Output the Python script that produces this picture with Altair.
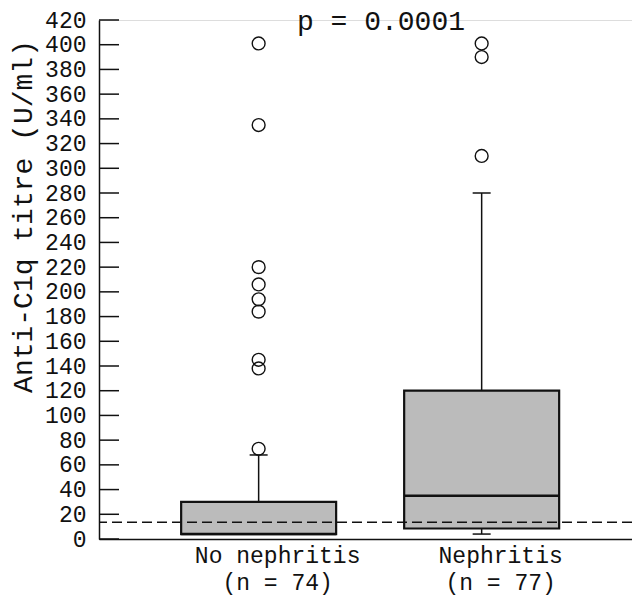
import altair as alt
import pandas as pd

groups = ["No nephritis", "Nephritis"]
n_values = [74, 77]
q1 = [4, 8.5]
medians = [4, 35]
q3 = [30, 120]
whisk_lo = [4, 4]
whisk_hi = [68, 280]
outliers_no = [73, 138, 145, 184, 194, 206, 220, 335, 401]
outliers_yes = [310, 390, 401]
cutoff = 13.5
y_ticks = list(range(0, 421, 20))
p_text = "p = 0.0001"

FONT = "Liberation Mono"
labels = [f"{g}|(n = {n})" for g, n in zip(groups, n_values)]

box_df = pd.DataFrame({
    "group": labels, "q1": q1, "median": medians, "q3": q3,
    "lo": whisk_lo, "hi": whisk_hi,
})
out_df = pd.DataFrame({
    "group": [labels[0]] * len(outliers_no) + [labels[1]] * len(outliers_yes),
    "value": outliers_no + outliers_yes,
})
tick_df = pd.DataFrame({"v": y_ticks})

x_enc = alt.X("group:N", sort=labels,
              scale=alt.Scale(paddingInner=0.305, paddingOuter=0.3475, align=0.53),
              axis=alt.Axis(title=None, labelAngle=0, ticks=False,
                            labelExpr="split(datum.label, '|')",
                            labelFont=FONT, labelFontSize=23, labelLineHeight=27,
                            labelColor="#111", labelPadding=5, labelOffset=19,
                            domainColor="#111", domainWidth=1.5))
y_scale = alt.Scale(domain=[0, 420], nice=False, zero=True)
y_axis = alt.Axis(values=y_ticks, grid=False, ticks=False, labelFont=FONT,
                  labelFontSize=23, labelColor="#111", labelPadding=13,
                  labelOverlap=False, labelSeparation=0,
                  domainColor="#111", domainWidth=1.5,
                  title="Anti-C1q titre (U/ml)", titleFont=FONT,
                  titleFontSize=28, titleFontWeight="normal", titleColor="#111",
                  titleAngle=-90, titleX=-76, titleY=196,
                  titleAlign="center", titleBaseline="middle")

base = alt.Chart(box_df)

whisk_up = base.mark_rule(color="#111", strokeWidth=1.5).encode(
    x=x_enc, y=alt.Y("q3:Q", scale=y_scale, axis=y_axis), y2="hi:Q")
whisk_down = base.mark_rule(color="#111", strokeWidth=1.5).encode(
    x=x_enc, y=alt.Y("lo:Q", axis=y_axis), y2="q1:Q")
cap_hi = base.mark_tick(color="#111", thickness=1.5, size=18, opacity=1,
                        orient="horizontal").encode(x=x_enc, y=alt.Y("hi:Q", axis=y_axis))
cap_lo = base.mark_tick(color="#111", thickness=1.5, size=18, opacity=1,
                        orient="horizontal").encode(x=x_enc, y=alt.Y("lo:Q", axis=y_axis))
box = base.mark_bar(fill="#bbbbbb", stroke="#111", strokeWidth=2.2, opacity=1).encode(
    x=x_enc, y=alt.Y("q1:Q", axis=y_axis), y2="q3:Q")
med = base.mark_tick(color="#111", thickness=2.4, size=155, opacity=1,
                     orient="horizontal").encode(x=x_enc, y=alt.Y("median:Q", axis=y_axis))
outs = alt.Chart(out_df).mark_point(shape="circle", filled=False, color="#111",
                                    strokeWidth=1.4, size=165, opacity=1).encode(
    x=x_enc, y=alt.Y("value:Q", axis=y_axis))
dash = alt.Chart(pd.DataFrame({"c": [cutoff]})).mark_rule(
    color="#111", strokeWidth=1.5, strokeDash=[10, 5]).encode(y=alt.Y("c:Q", axis=y_axis))
inner_ticks = alt.Chart(tick_df).mark_rule(color="#111", strokeWidth=1.5).encode(
    y=alt.Y("v:Q", axis=y_axis), x=alt.value(0), x2=alt.value(20))
ptxt = alt.Chart(pd.DataFrame({"t": [p_text]})).mark_text(
    font=FONT, fontSize=28, color="#111", align="center", baseline="middle").encode(
    text="t:N", x=alt.value(282), y=alt.value(2))

chart = alt.layer(whisk_up, whisk_down, cap_hi, cap_lo, box, med, outs, dash,
                  inner_ticks, ptxt).properties(
    width=533, height=519,
    autosize=alt.AutoSizeParams(type="none"),
    padding={"left": 91, "top": 12, "right": 0, "bottom": 57},
).configure_view(stroke=None).configure(background="white").configure_axis(
    labelOverlap=False)

chart.save("out.html", embed_options={"renderer": "svg", "actions": False})
